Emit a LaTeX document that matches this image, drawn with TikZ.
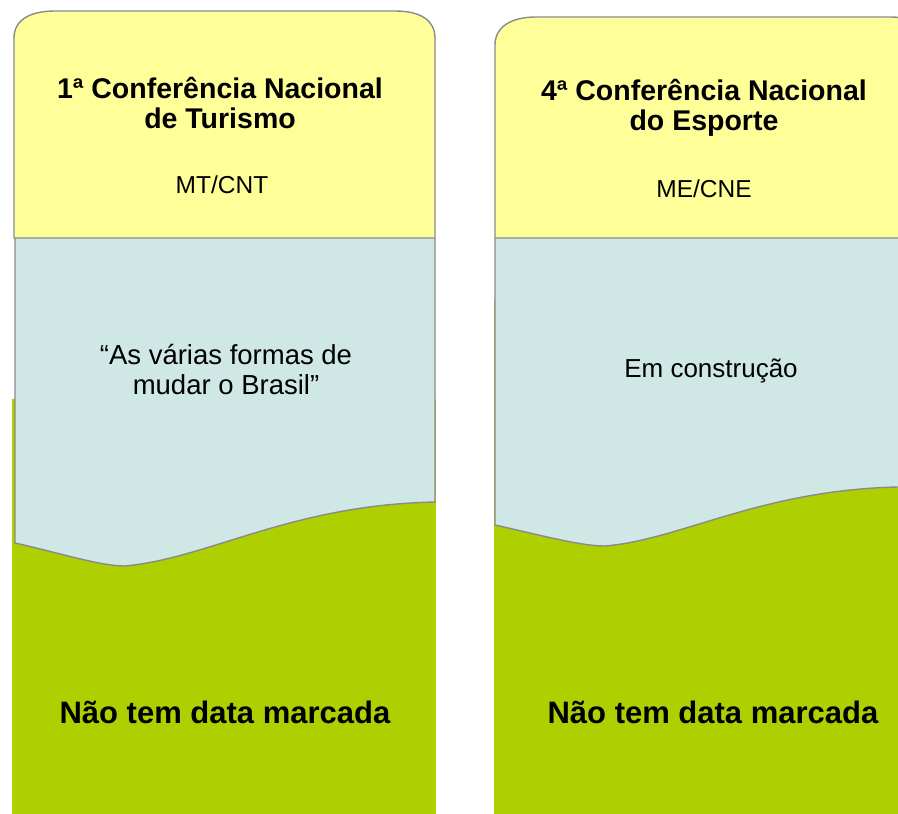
\documentclass[tikz,border=0pt]{standalone}
\usepackage{fontspec}
\setmainfont{Liberation Sans}
\definecolor{capa}{HTML}{FFFF99}
\definecolor{tema}{HTML}{CFE7E5}
\definecolor{prazo}{HTML}{AECF00}
\definecolor{borda}{HTML}{8A8A8A}

\begin{document}
\begin{tikzpicture}[x=1pt,y=-1pt,
    edge/.style={draw=borda, line width=1.4pt},
    txt/.style={inner sep=0pt, align=center, text=black}]

      \useasboundingbox (0,0) rectangle (898,814);
      \clip (0,0) rectangle (898,814);

      % left column: turismo
      \fill[prazo] (12,399) rectangle (436,814);
      \path[edge, fill=tema] (15,238) -- (15,543)
            .. controls (60,553) and (100,566) .. (125,566)
            .. controls (210,558) and (290,505) .. (435,502)
            -- (435,238);
      \path[edge, fill=capa] (14,238) -- (14,38)
            .. controls (14,20) and (30,11) .. (55,11) -- (395,11)
            .. controls (420,11) and (435,20) .. (435,38)
            -- (435,238) -- cycle;

      \node[txt,
            anchor=north,
            font=\bfseries\fontsize{28.5}{30}\selectfont] (tit1) at (220,77)
            {1ª Conferência Nacional\\de Turismo};
      \node[txt,
            anchor=base,
            font=\fontsize{24.5}{26}\selectfont] (org1) at (222,193) {MT/CNT};
      \node[txt,
            anchor=north,
            font=\fontsize{27.5}{30}\selectfont] (lema1) at (226,344)
            {“As várias formas de\\mudar o Brasil”};
      \node[txt,
            anchor=base,
            font=\bfseries\fontsize{31}{33}\selectfont] (data1) at (225,723)
            {Não tem data marcada};

      % right column: esporte
      \fill[prazo] (494,300) rectangle (931,814);
      \path[edge, fill=tema] (495,238) -- (495,525)
            .. controls (540,535) and (580,546) .. (605,546)
            .. controls (680,540) and (760,490) .. (898,487)
            -- (931,487) -- (931,238);
      \path[edge, fill=capa] (495,238) -- (495,45)
            .. controls (495,27) and (511,17) .. (536,17) -- (890,17)
            .. controls (915,17) and (931,27) .. (931,45)
            -- (931,238) -- cycle;

      \node[txt,
            anchor=north,
            font=\bfseries\fontsize{28.5}{30}\selectfont] (tit2) at (704,79)
            {4ª Conferência Nacional\\do Esporte};
      \node[txt,
            anchor=base,
            font=\fontsize{24.5}{26}\selectfont] (org2) at (704,197) {ME/CNE};
      \node[txt,
            anchor=base,
            font=\fontsize{26}{28}\selectfont] (lema2) at (711,377) {Em construção};
      \node[txt,
            anchor=base,
            font=\bfseries\fontsize{31}{33}\selectfont] (data2) at (713,723)
            {Não tem data marcada};

\end{tikzpicture}
\end{document}
